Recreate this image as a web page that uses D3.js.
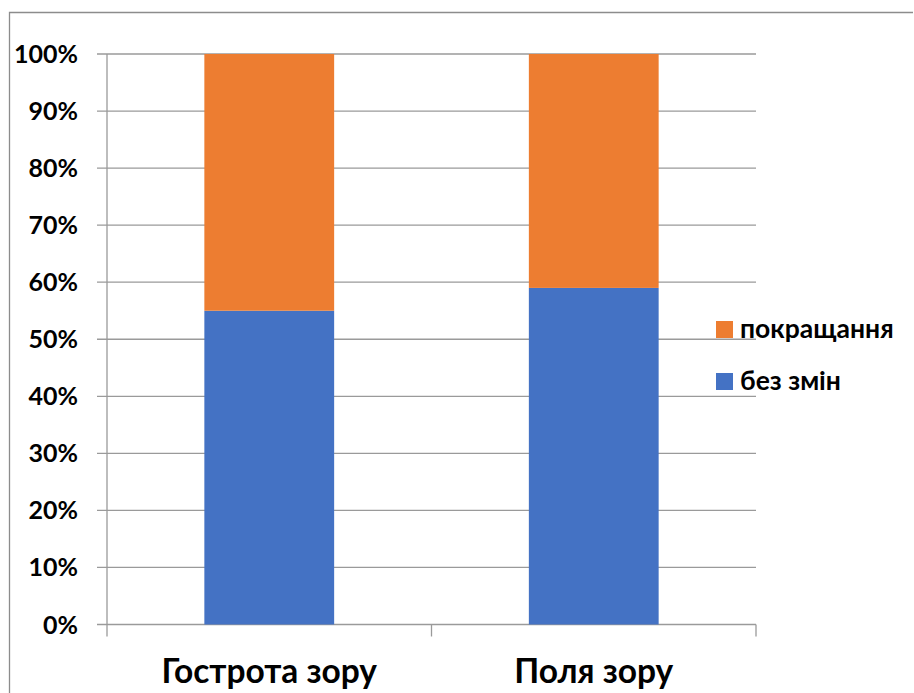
<!DOCTYPE html>
<html>
<head>
<meta charset="utf-8">
<script src="https://cdn.jsdelivr.net/npm/d3@7"></script>
<style>
  body { margin: 0; background: #fff; }
  svg { display: block; }
  text { font-family: Lato, "Open Sans", sans-serif; font-weight: 700; fill: #000; }
</style>
</head>
<body>
<svg id="chart" width="914" height="693"></svg>
<script>
// Categories and stacked shares (percent)
const categories = ["Гострота зору", "Поля зору"];
const noChange = [55, 59];      // без змін
const improved = [45, 41];      // покращання
const seriesNames = ["без змін", "покращання"];
const seriesColors = ["#4472C4", "#ED7D31"];
const yTicks = [0, 10, 20, 30, 40, 50, 60, 70, 80, 90, 100];

const svg = d3.select("#chart");
const gridColor = "#9a9a9a";

// outer frame (top and left edges)
svg.append("path")
  .attr("d", "M9.5,693 V12.5 H913")
  .attr("fill", "none").attr("stroke", "#8c8c8c").attr("stroke-width", 1.3);

const plot = { left: 107, right: 756, top: 54, bottom: 624.5 };

const x = d3.scaleBand().domain(categories)
  .range([plot.left, plot.right]).paddingInner(0).paddingOuter(0);
const y = d3.scaleLinear().domain([0, 100]).range([plot.bottom, plot.top]);

// horizontal gridlines with outer tick stubs
svg.append("g").selectAll("line").data(yTicks).join("line")
  .attr("x1", plot.left - 10).attr("x2", plot.right)
  .attr("y1", d => y(d)).attr("y2", d => y(d))
  .attr("stroke", gridColor).attr("stroke-width", 1.3);

// y axis line
svg.append("line")
  .attr("x1", plot.left).attr("x2", plot.left)
  .attr("y1", plot.top).attr("y2", plot.bottom + 12)
  .attr("stroke", gridColor).attr("stroke-width", 1.3);

// category boundary ticks
const bounds = categories.map(c => x(c)).concat([x(categories[categories.length - 1]) + x.bandwidth()]);
svg.append("g").selectAll("line").data(bounds.slice(1)).join("line")
  .attr("x1", d => d).attr("x2", d => d)
  .attr("y1", plot.bottom).attr("y2", plot.bottom + 12)
  .attr("stroke", gridColor).attr("stroke-width", 1.3);

// y tick labels
svg.append("g").selectAll("text").data(yTicks).join("text")
  .attr("x", 78).attr("y", d => y(d))
  .attr("dy", "0.36em")
  .attr("text-anchor", "end")
  .attr("font-size", 25)
  .text(d => d + "%");

// stacked bars
const rows = categories.map((c, i) => ({ cat: c, "без змін": noChange[i], "покращання": improved[i] }));
const stacked = d3.stack().keys(seriesNames)(rows);
const barW = x.bandwidth() * 0.4;

svg.append("g").selectAll("g").data(stacked).join("g")
  .attr("fill", (d, i) => seriesColors[i])
  .selectAll("rect").data(d => d).join("rect")
  .attr("x", d => x(d.data.cat) + (x.bandwidth() - barW) / 2)
  .attr("width", barW)
  .attr("y", d => y(d[1]))
  .attr("height", d => y(d[0]) - y(d[1]));

// category labels
svg.append("g").selectAll("text").data(categories).join("text")
  .attr("x", d => x(d) + x.bandwidth() / 2)
  .attr("y", 683)
  .attr("text-anchor", "middle")
  .attr("font-size", 33.5)
  .text(d => d);

// legend (top entry = last series)
const legendItems = seriesNames.map((n, i) => ({ name: n, color: seriesColors[i] })).reverse();
const lg = svg.append("g").selectAll("g").data(legendItems).join("g")
  .attr("transform", (d, i) => `translate(716, ${321 + i * 52})`);
lg.append("rect").attr("width", 17).attr("height", 17).attr("fill", d => d.color);
lg.append("text").attr("x", 24).attr("y", 17).attr("font-size", 26.5).text(d => d.name);
</script>
</body>
</html>
